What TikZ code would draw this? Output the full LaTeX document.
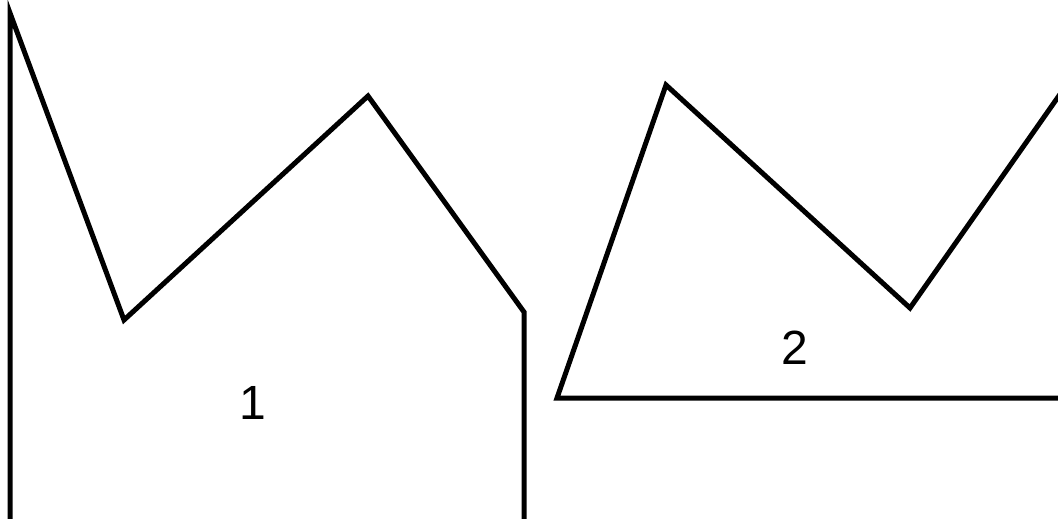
\documentclass[tikz,border=0pt]{standalone}
\usepackage{fontspec}
\setmainfont{Liberation Sans}
\begin{document}
\begin{tikzpicture}[x=1pt,y=-1pt,
  outline/.style={line width=5pt,black,line join=miter},
  label/.style={font=\fontsize{48}{48}\selectfont,inner sep=0pt}]
\useasboundingbox[fill=white] (0,0) rectangle (1058,519);
% shape 1
\coordinate (a1) at (10,530);
\coordinate (a2) at (10,13);
\coordinate (a3) at (124,320);
\coordinate (a4) at (368,96);
\coordinate (a5) at (524,312);
\coordinate (a6) at (524,530);
\draw[outline] (a1) -- (a2) -- (a3) -- (a4) -- (a5) -- (a6);
% shape 2
\coordinate (b1) at (1070,398);
\coordinate (b2) at (557,398);
\coordinate (b3) at (666,85);
\coordinate (b4) at (910,308);
\coordinate (b5) at (1070,80);
\draw[outline] (b1) -- (b2) -- (b3) -- (b4) -- (b5);
\node[label] (n1) at (253,403) {1};
\node[label] (n2) at (795,348) {2};
\end{tikzpicture}
\end{document}
